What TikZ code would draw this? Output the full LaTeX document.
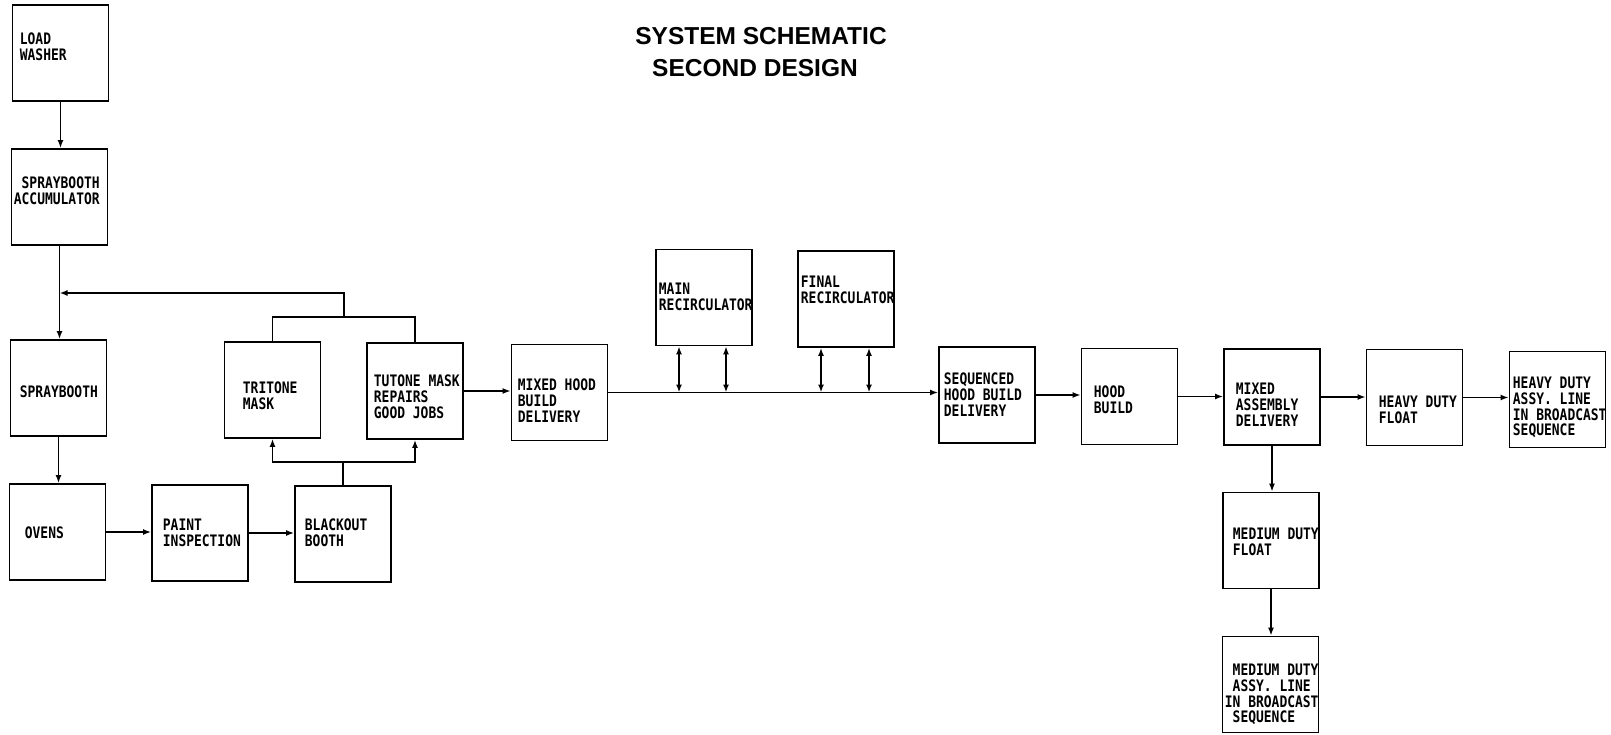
\documentclass[tikz,border=0pt]{standalone}
\usepackage{fontspec}
\usetikzlibrary{arrows.meta,calc}
\newfontfamily\boxfont[FakeStretch=0.82]{DejaVu Sans Mono}
\newfontfamily\titlefont{Liberation Sans}
\begin{document}
\begin{tikzpicture}[x=1pt,y=-1pt,line width=1.8pt,
  box/.style={draw,minimum width=96pt,minimum height=96pt,inner sep=0pt},
  lbl/.style={anchor=north west,inner sep=0pt,align=left,font=\boxfont\bfseries\fontsize{15.8}{15.8}\selectfont},
  ttl/.style={inner sep=0pt,font=\titlefont\bfseries\fontsize{24.5}{30}\selectfont},
  arr/.style={-{Latex[length=8pt,width=6pt]}},
  darr/.style={{Latex[length=8pt,width=6pt]}-{Latex[length=8pt,width=6pt]}}]
\useasboundingbox (0,0) rectangle (1611,735);
\fill[white] (0,0) rectangle (1611,735);

% title
\node[ttl] (t1) at (761,36.5) {SYSTEM SCHEMATIC};
\node[ttl] (t2) at (755,68.5) {SECOND DESIGN};

% boxes
\node[box] (lw)  at (60.5,53) {};
\node[box] (sa)  at (59.5,197) {};
\node[box] (sb)  at (58.5,388) {};
\node[box] (ov)  at (57.5,532) {};
\node[box] (pi)  at (200,533) {};
\node[box] (bb)  at (343,534) {};
\node[box] (tm)  at (272.5,390) {};
\node[box] (tu)  at (415,391) {};
\node[box] (mh)  at (559.5,392.5) {};
\node[box] (mr)  at (704,297.5) {};
\node[box] (fr)  at (846,299) {};
\node[box] (sq)  at (987,395) {};
\node[box] (hb)  at (1129.5,396.5) {};
\node[box] (ma)  at (1272,397) {};
\node[box] (hdf) at (1414.5,397.5) {};
\node[box] (hda) at (1557.5,399.5) {};
\node[box] (mdf) at (1271,540.5) {};
\node[box] (mda) at (1270.5,684.5) {};

% texts
\node[lbl] (lwt)  at (19,32) {LOAD\\WASHER};
\node[lbl] (sat)  at (13,176) {\phantom{X}SPRAYBOOTH\\ACCUMULATOR};
\node[lbl] (sbt)  at (19,385) {SPRAYBOOTH};
\node[lbl] (ovt)  at (24,526) {OVENS};
\node[lbl] (pit)  at (162,518) {PAINT\\INSPECTION};
\node[lbl] (bbt)  at (304,518) {BLACKOUT\\BOOTH};
\node[lbl] (tmt)  at (242,381) {TRITONE\\MASK};
\node[lbl] (tut)  at (373,374) {TUTONE MASK\\REPAIRS\\GOOD JOBS};
\node[lbl] (mht)  at (517,378) {MIXED HOOD\\BUILD\\DELIVERY};
\node[lbl] (mrt)  at (658,282) {MAIN\\RECIRCULATOR};
\node[lbl] (frt)  at (800,275) {FINAL\\RECIRCULATOR};
\node[lbl] (sqt)  at (943,372) {SEQUENCED\\HOOD BUILD\\DELIVERY};
\node[lbl] (hbt)  at (1093,385) {HOOD\\BUILD};
\node[lbl] (mat)  at (1235,382) {MIXED\\ASSEMBLY\\DELIVERY};
\node[lbl] (hdft) at (1378,395) {HEAVY DUTY\\FLOAT};
\node[lbl] (hdat) at (1512,376) {HEAVY DUTY\\ASSY. LINE\\IN BROADCAST\\SEQUENCE};
\node[lbl] (mdft) at (1232,527) {MEDIUM DUTY\\FLOAT};
\node[lbl] (mdat) at (1224,663) {\phantom{X}MEDIUM DUTY\\\phantom{X}ASSY. LINE\\IN BROADCAST\\\phantom{X}SEQUENCE};

% connectors
\coordinate (ly) at (0,293);
\coordinate (fy) at (0,462);
\draw[arr] (lw.south) -- (lw.south |- sa.north);
\draw[arr] (sa.south) -- (sa.south |- sb.north);
\draw[arr] (sb.south) -- (sb.south |- ov.north);
\draw (tm.north) -- ++(0,-24) -| (tu.north);
\coordinate (lm) at ($(tm.north)!0.5!(tu.north)+(0,-24)$);
\coordinate (jn) at (sa.south |- ly);
\draw[arr] (lm) |- (jn);
\draw[arr] (ov.east) -- (ov.east -| pi.west);
\draw[arr] (pi.east) -- (pi.east -| bb.west);
\coordinate (bf) at (bb.north |- fy);
\draw (bb.north) -- (bf);
\draw[arr] (bf) -| (tm.south);
\draw[arr] (bf) -| (tu.south);
\draw[arr] (tu.east) -- (tu.east -| mh.west);
\draw[arr] (mh.east) -- (mh.east -| sq.west);
\coordinate (m1) at ($(mr.south)+(-25,0)$);
\coordinate (m2) at ($(mr.south)+(22,0)$);
\coordinate (f1) at ($(fr.south)+(-25,0)$);
\coordinate (f2) at ($(fr.south)+(23,0)$);
\draw[darr] (m1) -- (m1 |- mh.east);
\draw[darr] (m2) -- (m2 |- mh.east);
\draw[darr] (f1) -- (f1 |- mh.east);
\draw[darr] (f2) -- (f2 |- mh.east);
\draw[arr] (sq.east) -- (sq.east -| hb.west);
\draw[arr] (hb.east) -- (hb.east -| ma.west);
\draw[arr] (ma.east) -- (ma.east -| hdf.west);
\draw[arr] (hdf.east) -- (hdf.east -| hda.west);
\draw[arr] (ma.south) -- (ma.south |- mdf.north);
\draw[arr] (mdf.south) -- (mdf.south |- mda.north);
\end{tikzpicture}
\end{document}
